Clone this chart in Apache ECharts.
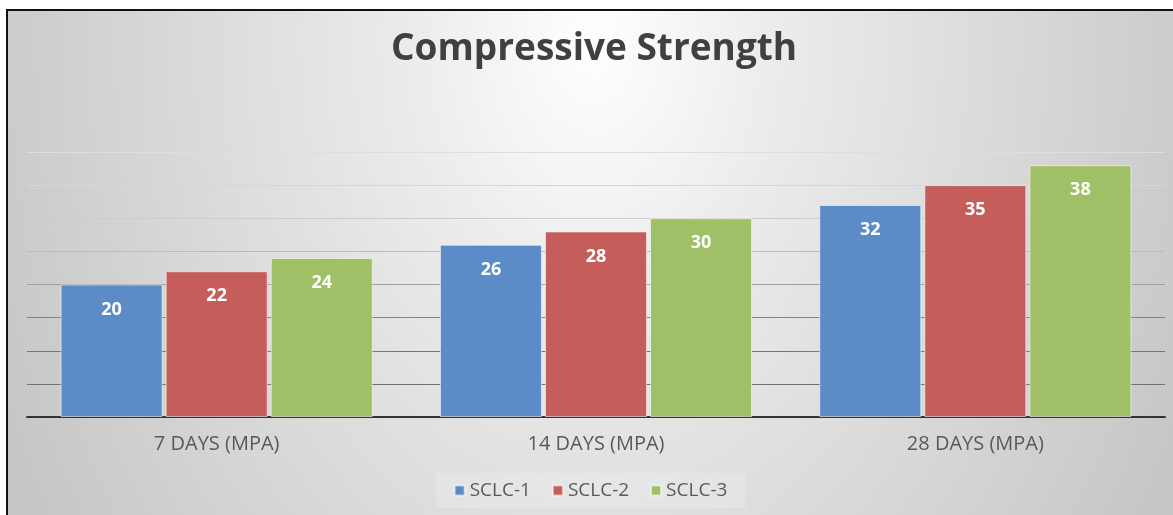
<!DOCTYPE html>
<html>
<head>
<meta charset="utf-8">
<script src="https://cdn.jsdelivr.net/npm/echarts@6/dist/echarts.min.js"></script>
<style>
  html, body { margin: 0; padding: 0; background: #ffffff; }
  body { width: 1173px; height: 515px; position: relative; overflow: hidden; }
  #frame {
    position: absolute; left: 6px; top: 9px;
    width: 1165px; height: 504px;
    border-left: 2px solid #111; border-top: 2px solid #111;
    background: radial-gradient(ellipse 640px 900px at 586px 30px, #ffffff 0%, #ececec 28%, #c7c7c7 100%);
  }
  #chart { width: 1165px; height: 504px; }
</style>
</head>
<body>
<div id="frame"><div id="chart"></div></div>
<script>
// Compressive strength of the three mixes at each curing age
const categories = ['7 DAYS (MPA)', '14 DAYS (MPA)', '28 DAYS (MPA)'];
const seriesNames = ['SCLC-1', 'SCLC-2', 'SCLC-3'];
const sclc1 = [20, 26, 32];
const sclc2 = [22, 28, 35];
const sclc3 = [24, 30, 38];
const seriesValues = [sclc1, sclc2, sclc3];
const seriesColors = ['#5c8cc7', '#c55e5a', '#a0c067'];

// gridlines fade from dark near the base to light near the top
const gridColors = ['#444444', '#707070', '#767676', '#838383', '#a0a0a0', '#bcbcbc', '#cccccc', '#d6d6d6', '#dedede'];

const font = '"Open Sans", "Liberation Sans", sans-serif';

const chart = echarts.init(document.getElementById('chart'), null, { renderer: 'canvas' });

chart.setOption({
  backgroundColor: 'transparent',
  animation: false,
  title: {
    text: 'Compressive Strength',
    left: 378,
    top: 15,
    textStyle: { fontFamily: font, fontWeight: 'bold', fontSize: 37, color: '#404040' }
  },
  legend: {
    data: seriesNames,
    bottom: 7,
    left: 'center',
    icon: 'rect',
    itemWidth: 10,
    itemHeight: 10,
    itemGap: 21,
    padding: [8, 18],
    backgroundColor: 'rgba(255,255,255,0.18)',
    textStyle: { fontFamily: font, fontSize: 19, color: '#595959' }
  },
  grid: { left: 19, right: 8, top: 141, bottom: 98, containLabel: false },
  xAxis: {
    type: 'category',
    data: categories,
    axisLine: { show: true, lineStyle: { color: '#333333', width: 2 } },
    axisTick: { show: false },
    axisLabel: { margin: 17, fontFamily: font, fontSize: 20, color: '#595959' }
  },
  yAxis: {
    type: 'value',
    min: 0,
    max: 40,
    interval: 5,
    axisLine: { show: false },
    axisTick: { show: false },
    axisLabel: { show: false },
    splitLine: { show: true, lineStyle: { color: gridColors, width: 1 } }
  },
  series: seriesValues.map((vals, i) => ({
    name: seriesNames[i],
    type: 'bar',
    data: vals,
    barWidth: 102,
    barGap: '3%',
    itemStyle: { color: seriesColors[i], borderColor: 'rgba(255,255,255,0.55)', borderWidth: 1 },
    label: {
      show: true,
      position: 'insideTop',
      distance: 16,
      fontFamily: font,
      fontWeight: 'bold',
      fontSize: 18,
      color: '#ffffff'
    }
  }))
});
</script>
</body>
</html>
